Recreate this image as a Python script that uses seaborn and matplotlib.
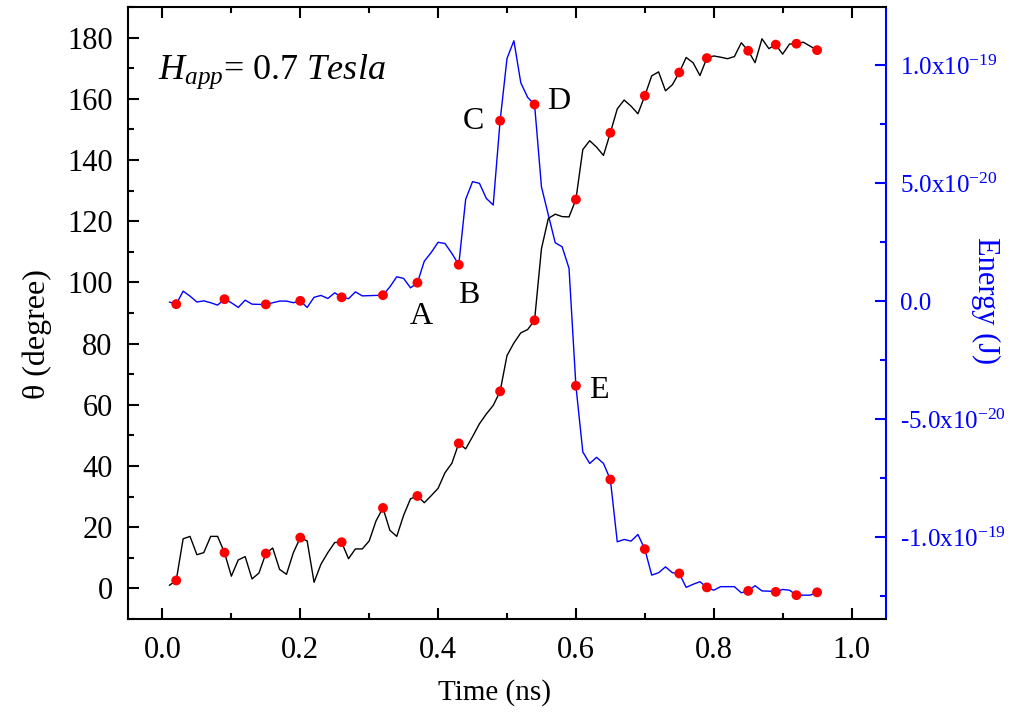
import numpy as np
import pandas as pd
import matplotlib
matplotlib.use("Agg")
import matplotlib.pyplot as plt
from matplotlib.ticker import MultipleLocator, FuncFormatter
import seaborn as sns

# ---------------- data ----------------
time_ns = [0.01, 0.02, 0.03, 0.04, 0.05, 0.06, 0.07, 0.08, 0.09, 0.10,
           0.11, 0.12, 0.13, 0.14, 0.15, 0.16, 0.17, 0.18, 0.19, 0.20,
           0.21, 0.22, 0.23, 0.24, 0.25, 0.26, 0.27, 0.28, 0.29, 0.30,
           0.31, 0.32, 0.33, 0.34, 0.35, 0.36, 0.37, 0.38, 0.39, 0.40,
           0.41, 0.42, 0.43, 0.44, 0.45, 0.46, 0.47, 0.48, 0.49, 0.50,
           0.51, 0.52, 0.53, 0.54, 0.55, 0.56, 0.57, 0.58, 0.59, 0.60,
           0.61, 0.62, 0.63, 0.64, 0.65, 0.66, 0.67, 0.68, 0.69, 0.70,
           0.71, 0.72, 0.73, 0.74, 0.75, 0.76, 0.77, 0.78, 0.79, 0.80,
           0.81, 0.82, 0.83, 0.84, 0.85, 0.86, 0.87, 0.88, 0.89, 0.90,
           0.91, 0.92, 0.93, 0.94, 0.95]

theta_deg = [1.0, 2.6, 16.2, 17.0, 11.0, 11.7, 17.0, 17.0, 11.7, 4.0,
             9.3, 10.4, 3.1, 5.0, 11.4, 13.2, 6.2, 4.6, 11.7, 16.6,
             15.5, 2.0, 7.9, 11.7, 15.0, 15.1, 9.7, 12.9, 12.9, 15.5,
             22.1, 26.3, 19.0, 17.0, 23.9, 29.3, 30.2, 28.0, 30.3, 32.7,
             37.8, 40.9, 47.4, 45.6, 49.6, 53.8, 57.0, 59.8, 64.4, 76.1,
             80.2, 83.5, 84.6, 87.6, 111.0, 120.9, 122.3, 121.5, 121.4, 127.1,
             143.4, 146.3, 144.2, 141.5, 148.9, 156.7, 159.6, 157.6, 155.1, 161.0,
             167.5, 168.8, 162.6, 164.6, 168.6, 173.5, 171.8, 167.6, 173.3, 174.0,
             173.6, 173.1, 173.8, 178.3, 175.7, 171.8, 179.6, 176.4, 177.7, 174.6,
             177.9, 178.0, 178.5, 177.2, 175.9]

# energy in units of 1e-20 J
energy_e20 = [-0.04, -0.13, 0.42, 0.21, -0.04, 0.01, -0.07, -0.17, 0.08, -0.07,
              -0.27, 0.04, -0.13, -0.14, -0.14, -0.07, 0.0, 0.0, -0.07, 0.01,
              -0.27, 0.16, 0.24, 0.11, 0.35, 0.16, 0.10, 0.39, 0.22, 0.23,
              0.24, 0.25, 0.60, 1.03, 0.96, 0.56, 0.78, 1.69, 2.06, 2.49,
              2.44, 2.02, 1.54, 4.31, 5.06, 4.99, 4.35, 4.07, 7.64, 10.28,
              11.03, 9.25, 8.63, 8.33, 4.84, 3.65, 2.47, 2.30, 1.39, -3.59,
              -6.39, -6.88, -6.62, -6.88, -7.56, -10.20, -10.10, -10.17, -9.89, -10.51,
              -11.61, -11.51, -11.26, -11.51, -11.54, -12.13, -12.00, -11.89, -12.13, -12.25,
              -12.10, -12.10, -12.10, -12.36, -12.28, -12.06, -12.28, -12.29, -12.32, -12.22,
              -12.25, -12.46, -12.46, -12.46, -12.34]

dot_times = [0.02, 0.09, 0.15, 0.20, 0.26, 0.32, 0.37, 0.43, 0.49, 0.54,
             0.60, 0.65, 0.70, 0.75, 0.79, 0.85, 0.89, 0.92, 0.95]

point_labels = ["A", "B", "C", "D", "E"]
point_label_t = [0.375, 0.445, 0.451, 0.575, 0.633]
point_label_theta = [86.4, 93.3, 150.2, 156.7, 62.2]

df = pd.DataFrame({"time": time_ns, "theta": theta_deg,
                   "energy": np.array(energy_e20) * 1e-20})
dots = df[df["time"].round(2).isin(dot_times)]

# ---------------- style ----------------
sns.set_style("ticks")
plt.rcParams["font.family"] = ["Liberation Serif", "DejaVu Serif"]
plt.rcParams["mathtext.fontset"] = "custom"
plt.rcParams["mathtext.rm"] = "Liberation Serif"
plt.rcParams["mathtext.it"] = "Liberation Serif:italic"
for k in ["text.color", "axes.labelcolor", "xtick.color", "ytick.color",
          "axes.edgecolor"]:
    plt.rcParams[k] = "black"

fig = plt.figure(figsize=(10.23, 7.22), dpi=100)
ax = fig.add_axes([128 / 1023, 1 - 619 / 722, (886 - 128) / 1023, (619 - 7) / 722])
ax2 = ax.twinx()

# lines
sns.lineplot(data=df, x="time", y="energy", ax=ax2, color="#0000ff",
             linewidth=1.0, estimator=None, sort=False, zorder=2)
sns.lineplot(data=df, x="time", y="theta", ax=ax, color="black",
             linewidth=1.0, estimator=None, sort=False, zorder=2)
sns.scatterplot(data=dots, x="time", y="energy", ax=ax2, color="#ff0000",
                s=50, edgecolor="none", zorder=5)
sns.scatterplot(data=dots, x="time", y="theta", ax=ax, color="#ff0000",
                s=50, edgecolor="none", zorder=5)

ax.set_zorder(ax2.get_zorder() + 1)
ax.patch.set_visible(False)

# limits
ax.set_xlim(-0.05, 1.05)
ax.set_ylim(-10, 190)
ax2.set_ylim(-1.347e-19, 1.246e-19)

# ticks
ax.xaxis.set_major_locator(MultipleLocator(0.2))
ax.xaxis.set_minor_locator(MultipleLocator(0.1))
ax.yaxis.set_major_locator(MultipleLocator(20))
ax.yaxis.set_minor_locator(MultipleLocator(10))
ax.xaxis.set_major_formatter(FuncFormatter(lambda v, p: f"{v:.1f}"))
ax.yaxis.set_major_formatter(FuncFormatter(lambda v, p: f"{v:.0f}"))
ax.tick_params(axis="both", which="major", direction="in", length=8, width=1.5,
               labelsize=22, top=True, right=False, colors="black")
ax.tick_params(axis="both", which="minor", direction="in", length=4.5, width=1.5,
               top=True, right=False, colors="black")
ax.tick_params(axis="x", which="major", pad=12)
ax.tick_params(axis="y", which="major", pad=11)

ax2.yaxis.set_major_locator(MultipleLocator(5e-20))
ax2.yaxis.set_minor_locator(MultipleLocator(2.5e-20))


def energy_fmt(v, p):
    if abs(v) < 1e-25:
        return "0.0"
    exp = int(np.floor(np.log10(abs(v)) + 1e-9))
    mant = v / 10 ** exp
    return f"{mant:.1f}x10$^{{{exp}}}$"


ax2.yaxis.set_major_formatter(FuncFormatter(energy_fmt))
ax2.yaxis.get_offset_text().set_visible(False)
ax2.tick_params(axis="y", which="major", direction="in", length=8, width=1.5,
                labelsize=18, colors="#0000ff", pad=10)
ax2.tick_params(axis="y", which="minor", direction="in", length=4.5, width=1.5,
                colors="#0000ff")

for s in ["left", "bottom", "top"]:
    ax.spines[s].set_linewidth(1.5)
    ax.spines[s].set_color("black")
ax.spines["right"].set_visible(False)
for s in ["left", "bottom", "top"]:
    ax2.spines[s].set_visible(False)
ax2.spines["right"].set_color("#0000ff")
ax2.spines["right"].set_linewidth(1.5)

# labels
ax.set_xlabel("Time (ns)", fontsize=21, va="center", color="black")
ax.xaxis.set_label_coords(0.483, -0.12)
ax.set_ylabel("\u03b8 (degree)", fontsize=23, va="center", ha="center",
              color="black")
ax.yaxis.set_label_coords(-0.12, 0.465)
ax2.set_ylabel("")
ax2.text(1.131, 0.521, "Energy (J)", transform=ax2.transAxes, rotation=-90,
         ha="center", va="center", fontsize=22, color="#0000ff")

ax.text(-0.007, 166.5, r"$H_{app}$= 0.7 $Tesla$", fontsize=26,
        ha="left", va="baseline", color="black")
for lab, tx, ty in zip(point_labels, point_label_t, point_label_theta):
    ax.text(tx, ty, lab, fontsize=23, ha="center", va="baseline", color="black")

fig.savefig("out.png", dpi=100)
